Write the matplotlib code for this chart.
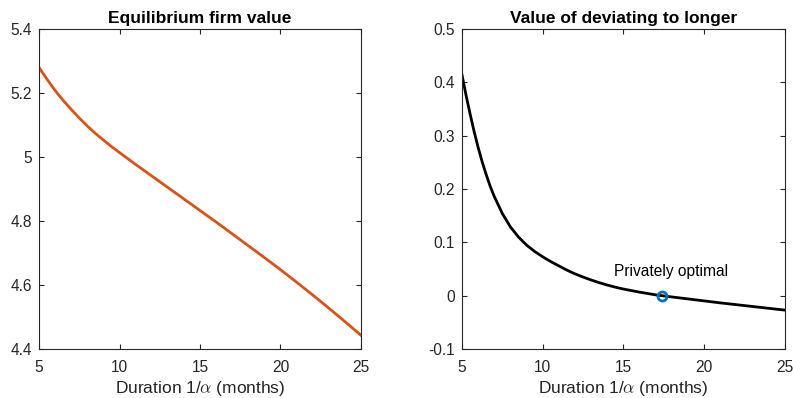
import matplotlib
matplotlib.use("Agg")
import matplotlib.pyplot as plt

plt.rcParams["font.family"] = ["Liberation Sans", "DejaVu Sans"]
plt.rcParams["mathtext.fontset"] = "cm"

# firm value in equilibrium, by contract duration (months)
duration = [5, 5.5, 6, 6.5, 7, 7.5, 8, 8.5, 9, 9.5, 10, 11, 12, 13, 14,
            15, 16, 17, 18, 19, 20, 21, 22, 23, 24, 25]
firm_value = [5.280, 5.243, 5.208, 5.177, 5.149, 5.122, 5.097, 5.074,
              5.053, 5.033, 5.014, 4.977, 4.941, 4.905, 4.869, 4.833,
              4.797, 4.760, 4.723, 4.686, 4.648, 4.609, 4.569, 4.528,
              4.486, 4.443]

# gain from deviating to a longer duration
dev_duration = [5, 5.25, 5.5, 5.75, 6, 6.25, 6.5, 6.75, 7, 7.5, 8, 8.5,
                9, 9.5, 10, 10.5, 11, 11.5, 12, 12.5, 13, 13.5, 14, 14.5,
                15, 16, 17, 18, 19, 20, 21, 22, 23, 24, 25]
dev_value = [0.414, 0.376, 0.341, 0.308, 0.278, 0.251, 0.227, 0.205,
             0.186, 0.154, 0.129, 0.110, 0.095, 0.083, 0.073, 0.064,
             0.056, 0.048, 0.041, 0.035, 0.0295, 0.0245, 0.020, 0.016,
             0.0125, 0.0067, 0.0016, -0.0023, -0.006, -0.0097, -0.0134,
             -0.0168, -0.0202, -0.0236, -0.027]

opt_duration = 17.4
opt_value = 0.0

axis_gray = (0.15, 0.15, 0.15)


def style_axes(ax):
    for sp in ax.spines.values():
        sp.set_color(axis_gray)
        sp.set_linewidth(0.8)
    ax.tick_params(direction="in", top=True, right=True, length=3.5,
                   width=0.8, color=axis_gray, labelcolor=axis_gray,
                   labelsize=11.2)
    ax.tick_params(axis="x", pad=8)
    ax.tick_params(axis="y", pad=5.2)
    ax.set_xlim(5, 25)
    ax.set_xticks([5, 10, 15, 20, 25])
    ax.set_xlabel(r"Duration 1/$\alpha$ (months)", fontsize=12.5,
                  color=axis_gray, labelpad=2.5)


fig = plt.figure(figsize=(7.93, 3.98), dpi=100)
ax1 = fig.add_axes([0.0492, 0.123, 0.406, 0.804])
ax2 = fig.add_axes([0.5826, 0.123, 0.407, 0.804])

ax1.plot(duration, firm_value, color="#D95319", lw=2)
style_axes(ax1)
ax1.set_ylim(4.4, 5.4)
ax1.set_yticks([4.4, 4.6, 4.8, 5.0, 5.2, 5.4])
ax1.set_yticklabels(["4.4", "4.6", "4.8", "5", "5.2", "5.4"])
ax1.set_title("Equilibrium firm value", fontsize=12.5, fontweight="bold",
              pad=4)

ax2.plot(dev_duration, dev_value, color="black", lw=2)
ax2.plot([opt_duration], [opt_value], "o", mfc="none", mec="#0072BD",
         mew=2, ms=6.5)
ax2.text(14.43, 0.045, "Privately optimal", fontsize=11.2, ha="left",
         va="center", color="black")
style_axes(ax2)
ax2.set_ylim(-0.1, 0.5)
ax2.set_yticks([-0.1, 0, 0.1, 0.2, 0.3, 0.4, 0.5])
ax2.set_yticklabels(["-0.1", "0", "0.1", "0.2", "0.3", "0.4", "0.5"])
ax2.set_title("Value of deviating to longer", fontsize=12.5,
              fontweight="bold", pad=4)

fig.savefig("out.png", dpi=100)
